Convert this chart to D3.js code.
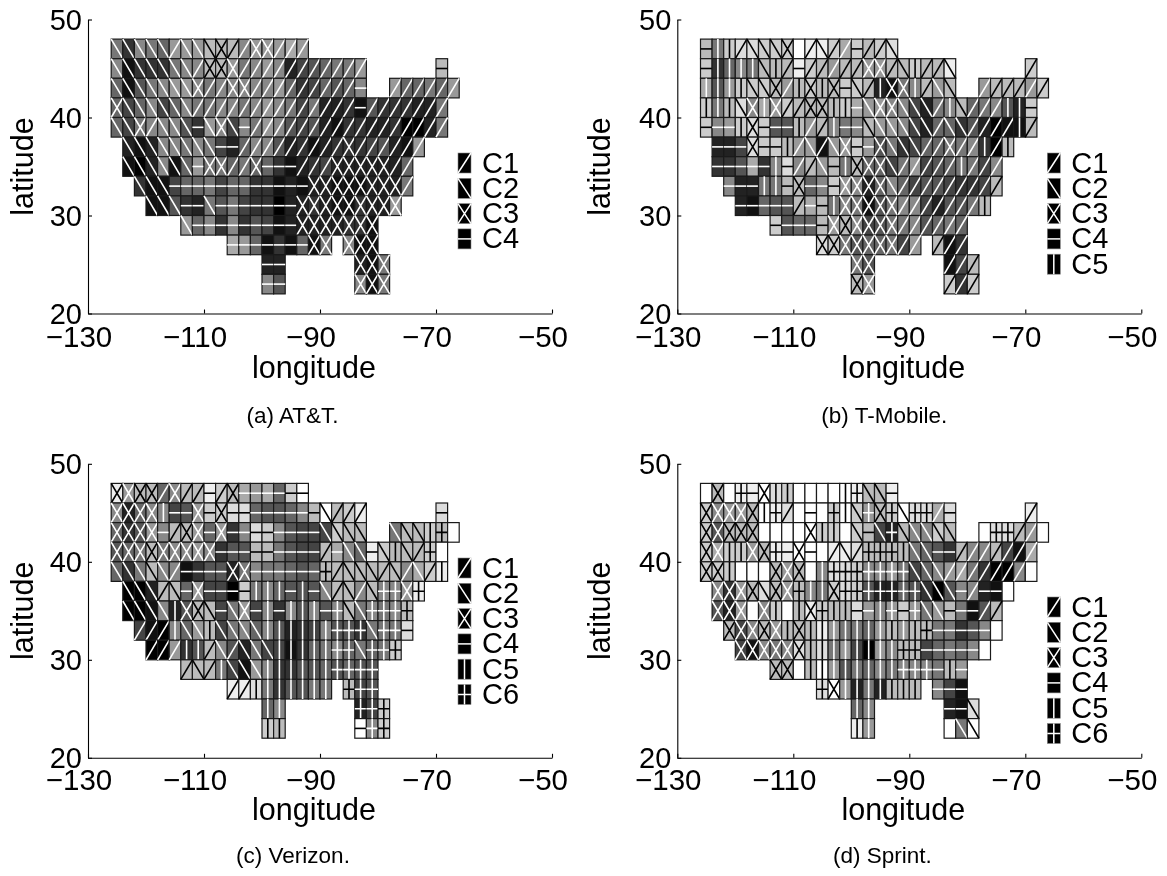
<!DOCTYPE html>
<html>
<head>
<meta charset="utf-8">
<title>Carrier clusters</title>
<script src="https://d3js.org/d3.v7.min.js"></script>
<style>
	html, body { margin: 0; padding: 0; background: #fff; }
	svg { display: block; filter: blur(0.35px); }
	text { font-family: "Liberation Sans", Arial, sans-serif; fill: #000; }
</style>
</head>
<body>
<svg id="chart"></svg>
<script>
// one string per 2 degree latitude band (48N down to 22N), one char per 2 degree column from 126W
// clusters: 1-6 = C1-C6, 0 = no cluster, . = no cell. gray: hex level, 0 black to f white
let attClusters = [
	"22222122231133111",
	"2222222133311111111111 ...... 4",
	"2222222 3 11 33 111111111 4 .. 111111",
	"3222222 11111111111111 4 1111111",
	"2231222 42324 11111111111111111",
	".22222222 44 111111111 3 111111",
	".222222 4 33 11 3 444 111 33333 11",
	"..222 444444444444 33333333 1",
	"...222 44 2 4444444 333333333",
	"......2 444444444 3333333",
	".......... 4444444 33 . 333",
	"............. 44 ...... 333",
	"............. 44 ...... 333"
];
let attGray = [
	"73876999bbb8999a9",
	"81333788bb978982456779 ...... b",
	"6157899878888896346568 .. 966769",
	"6468468 7788789 8747223 1533322 7",
	"6478885 3984879 854 521332230027",
	".21288787 426885 231233345219",
	".102816 9 77 67 6 631 234 22222 26",
	"..311 466746633121 22111222 7",
	"...115 32 7 5743302 232113229",
	"......9 683835412 2222331",
	".......... a961316 17 . 811",
	"............. 22 ...... 217",
	"............. 85 ...... 817"
];

let tmobileClusters = [
	"4551222 3012114 112",
	"45555251 41111133 125112 ...... 1",
	"5555 2231 5353 4215 335122 .. 111111",
	"5552353 1133554 2332221 5211155 4",
	"4445344 4511544 2222221 2211115 1",
	".444344 5121234 4322211 311515",
	".444445 4112453 3321111 15111",
	"..44455 4344433 3321111 11111",
	"...44444 1 44 5 33333 1111111 5",
	"......44444 333333 111111",
	".......... 3333333 11 . 111",
	"............. 33 ...... 111",
	"............. 33 ...... 111"
];
let tmobileGray = [
	"b7cddcc cfeecac bcd",
	"c3687bbb ecb9bb99 bbcbbe ...... c",
	"a59c ccb9 bcbb ccb2 178b9b .. 9bbb9c",
	"c7bd8a9 cbbbbca 9988427 8b67852 c",
	"c89cdc5 5b9b878 b998426 6352011 b",
	".224dcc b99199c 9573466 77830b",
	".335a38 d8b9b7b 6647945 67748",
	"..82277 bb68c98 2686455 4334b",
	"...21655 b ab 7 87157 8842557 b",
	"......c566b 9b8457 785676",
	".......... dc75667 49 . b13",
	"............. 75 ...... 14b",
	"............. b9 ...... c3c"
];

let verizonClusters = [
	"3333131 1413444 444",
	"3333544 3434444 4444211 1 ...... 4",
	"3333413 3434444 4444222 2 .. 222560",
	"3333333 3344444 4444142 24252160",
	"2222214 4443344 4444612 22121215",
	".222124 3444455 5454212 126636",
	".222253 3242345 4555462 26666",
	"..11152 2522225 5555566 62664",
	"...1115 5121222 5555566 2666",
	"...... 12152225 55555 6666",
	".......... 115555555 . 666",
	"............. 55 ...... 666",
	"............. 55 ...... 466"
];
let verizonGray = [
	"e9bb68b becba9a 6cf",
	"8268845 9ccdd65 568bfbc e ...... d",
	"63598bb 96938dc 85444cb b .. 7bbcbf",
	"567b788 98355bb 7544ba8 6ecbbbcf",
	"637b881 3552787 7656bbb bbbb8ace",
	".002bb6 9440c78 65558bb 8b889e",
	".001825 bb47948 385858b 7878b",
	"..41086 9b47868 5234855 3777d",
	"...0093 5b85274 4136786 767c",
	"...... bbb74198 33556 5655",
	".......... eed735577 . b45",
	"............. 68 ...... 24c",
	"............. cb ...... f8c"
];

let sprintClusters = [
	"0306435 5000056 224",
	"3333356 1040652 6362661 4 ...... 1",
	"3333300 0035502 4262222 2 .. 066110",
	"3355336 4340121 6665224 41111111",
	"3350003 3305666 6666222 11111110",
	".333323 3655366 6666622 241440",
	".333035 0536554 4564622 44411",
	"..33333 5355555 5555564 44440",
	"...33333 3555555 5566444 440",
	"...... 33055555 555666454",
	".......... 63 5555555 . 444",
	"............. 55 ...... 442",
	"............. 55 ...... 022"
];
let sprintGray = [
	"fbfeefd cfffffe bbe",
	"c899bfe dfffcfc 9bcfdda d ...... e",
	"c5bbbff fffccfc b42b88c b .. fddb9f",
	"cacc9be efffeed bbbb765 3b88b41a",
	"cccfffb 9bf8ddc 8897468 9a73008f",
	".839bdb 9b87cdc 5226530 58821f",
	".529f8c fbecbbd 989c979 b715b",
	"..b48b9 bbbe977 69b9bb7 7358f",
	"...41878 dbd7940 98bb467 68f",
	"...... bbfbf957 6878887b9",
	".......... df 9272bbb . 841",
	"............. 68 ...... 21d",
	"............. e9 ...... f7f"
];

let lonTicks = [-130, -110, -90, -70, -50];
let latTicks = [20, 30, 40, 50];
let legendLabels = ["C1", "C2", "C3", "C4", "C5", "C6"];

let w = 1167;
let h = 876;
let plotW = 464;
let plotH = 294;
let cellDeg = 2;

let chart = d3.select('#chart')
	.attr('width', w)
	.attr('height', h);

// the hatch of a cluster inside a box, as an svg path
function hatch(cluster, x0, y0, x1, y1) {
	let p = d3.path();
	let mx = (x0 + x1) / 2;
	let my = (y0 + y1) / 2;
	if (cluster == 1 || cluster == 3) { p.moveTo(x0, y1); p.lineTo(x1, y0); }
	if (cluster == 2 || cluster == 3) { p.moveTo(x0, y0); p.lineTo(x1, y1); }
	if (cluster == 4 || cluster == 6) { p.moveTo(x0, my); p.lineTo(x1, my); }
	if (cluster == 5 || cluster == 6) { p.moveTo(mx, y0); p.lineTo(mx, y1); }
	return p.toString();
}

function toCells(clusters, grays) {
	let cells = [];
	clusters.forEach((row, r) => {
		let cRow = row.replace(/ /g, "");
		let gRow = grays[r].replace(/ /g, "");
		for (let c = 0; c < cRow.length; c++) {
			if (cRow[c] == ".") continue;
			cells.push({
				lon: -126 + c * cellDeg,
				lat: 46 - r * cellDeg,
				cluster: +cRow[c],
				level: parseInt(gRow[c], 16)
			});
		}
	});
	return cells;
}

function drawPanel(opts) {
	let left = opts.left;
	let top = opts.top;
	let bottom = top + plotH;

	let xScale = d3.scaleLinear().domain([-130, -50]).range([left, left + plotW]);
	let yScale = d3.scaleLinear().domain([20, 50]).range([bottom, top]);
	let grayScale = d3.scaleLinear().domain([0, 15]).range([0, 255]);

	let panel = chart.append('g');

	let cell = panel.selectAll('.cell')
		.data(toCells(opts.clusters, opts.grays))
		.enter()
		.append('g')
		.attr('class', 'cell');

	cell.append('rect')
		.attr('x', d => xScale(d.lon))
		.attr('y', d => yScale(d.lat + cellDeg))
		.attr('width', d => xScale(d.lon + cellDeg) - xScale(d.lon))
		.attr('height', d => yScale(d.lat) - yScale(d.lat + cellDeg))
		.style('fill', d => {
			let g = Math.round(grayScale(d.level));
			return `rgb(${g},${g},${g})`;
		})
		.style('stroke', '#1a1a1a')
		.style('stroke-width', 1.2);

	cell.append('path')
		.attr('d', d => hatch(d.cluster, xScale(d.lon), yScale(d.lat + cellDeg), xScale(d.lon + cellDeg), yScale(d.lat)))
		.style('fill', 'none')
		.style('stroke', d => d.level >= 11 ? '#000' : '#fff')
		.style('stroke-width', 1.6);

	//AXES
	let xAxis = d3.axisBottom(xScale)
		.tickValues(lonTicks)
		.tickSizeInner(-4)
		.tickSizeOuter(0)
		.tickFormat(d => "\u2212" + Math.abs(d));

	let yAxis = d3.axisLeft(yScale)
		.tickValues(latTicks)
		.tickSizeInner(-4)
		.tickSizeOuter(0);

	let xG = panel.append('g')
		.attr('transform', `translate(0, ${bottom})`)
		.call(xAxis);

	xG.selectAll('text')
		.attr('dx', -9.5)
		.attr('y', opts.tickY)
		.attr('dy', 0)
		.style('font-family', '"Liberation Sans", Arial, sans-serif')
		.style('font-size', '29.5px');

	let yG = panel.append('g')
		.attr('transform', `translate(${left}, 0)`)
		.call(yAxis);

	yG.selectAll('text')
		.attr('x', -6)
		.attr('dy', 9.5)
		.style('font-family', '"Liberation Sans", Arial, sans-serif')
		.style('font-size', '29px');

	panel.selectAll('.domain, .tick line')
		.style('stroke', '#000')
		.style('stroke-width', 1.1);

	//LABELS
	panel.append('text')
		.attr('x', left + 226)
		.attr('y', bottom + opts.lonY)
		.style('text-anchor', 'middle')
		.style('font-size', '30.5px')
		.text('longitude');

	panel.append('text')
		.attr('transform', 'rotate(-90)')
		.attr('x', -(top + plotH / 2))
		.attr('y', opts.latX)
		.style('text-anchor', 'middle')
		.style('font-size', '30.5px')
		.text('latitude');

	panel.append('text')
		.attr('x', left + opts.captionX)
		.attr('y', bottom + opts.captionY)
		.style('text-anchor', 'middle')
		.style('font-size', '22.5px')
		.text(opts.caption);

	//LEGEND
	let legendY = d3.scaleLinear().domain([0, 1]).range([opts.legendTop, opts.legendTop + 25.3]);
	let legendX = left + 370;

	let key = panel.selectAll('.key')
		.data(legendLabels.slice(0, opts.legendCount))
		.enter()
		.append('g')
		.attr('class', 'key');

	key.append('rect')
		.attr('x', legendX)
		.attr('y', (d, i) => legendY(i))
		.attr('width', 13)
		.attr('height', 20)
		.style('fill', '#000')
		.style('stroke', '#888')
		.style('stroke-width', 0.6);

	key.append('path')
		.attr('d', (d, i) => hatch(i + 1, legendX, legendY(i), legendX + 13, legendY(i) + 20))
		.style('fill', 'none')
		.style('stroke', '#fff')
		.style('stroke-width', 1.5);

	key.append('text')
		.attr('x', legendX + 24)
		.attr('y', (d, i) => legendY(i) + 19.5)
		.style('font-size', '29px')
		.text(d => d);
}

drawPanel({ clusters: attClusters, grays: attGray, caption: "(a) AT&T.", left: 88, top: 19.5, latX: 33, legendTop: 153, legendCount: 4, tickY: 33, lonY: 64, captionX: 204.5, captionY: 109 });
drawPanel({ clusters: tmobileClusters, grays: tmobileGray, caption: "(b) T-Mobile.", left: 677.3, top: 19.5, latX: 610, legendTop: 153, legendCount: 5, tickY: 33, lonY: 64, captionX: 207, captionY: 109 });
drawPanel({ clusters: verizonClusters, grays: verizonGray, caption: "(c) Verizon.", left: 88, top: 463.8, latX: 33, legendTop: 558, legendCount: 6, tickY: 32, lonY: 62, captionX: 205, captionY: 105.5 });
drawPanel({ clusters: sprintClusters, grays: sprintGray, caption: "(d) Sprint.", left: 677.3, top: 463.8, latX: 610, legendTop: 597, legendCount: 6, tickY: 32, lonY: 62, captionX: 205, captionY: 105.5 });
</script>
</body>
</html>
